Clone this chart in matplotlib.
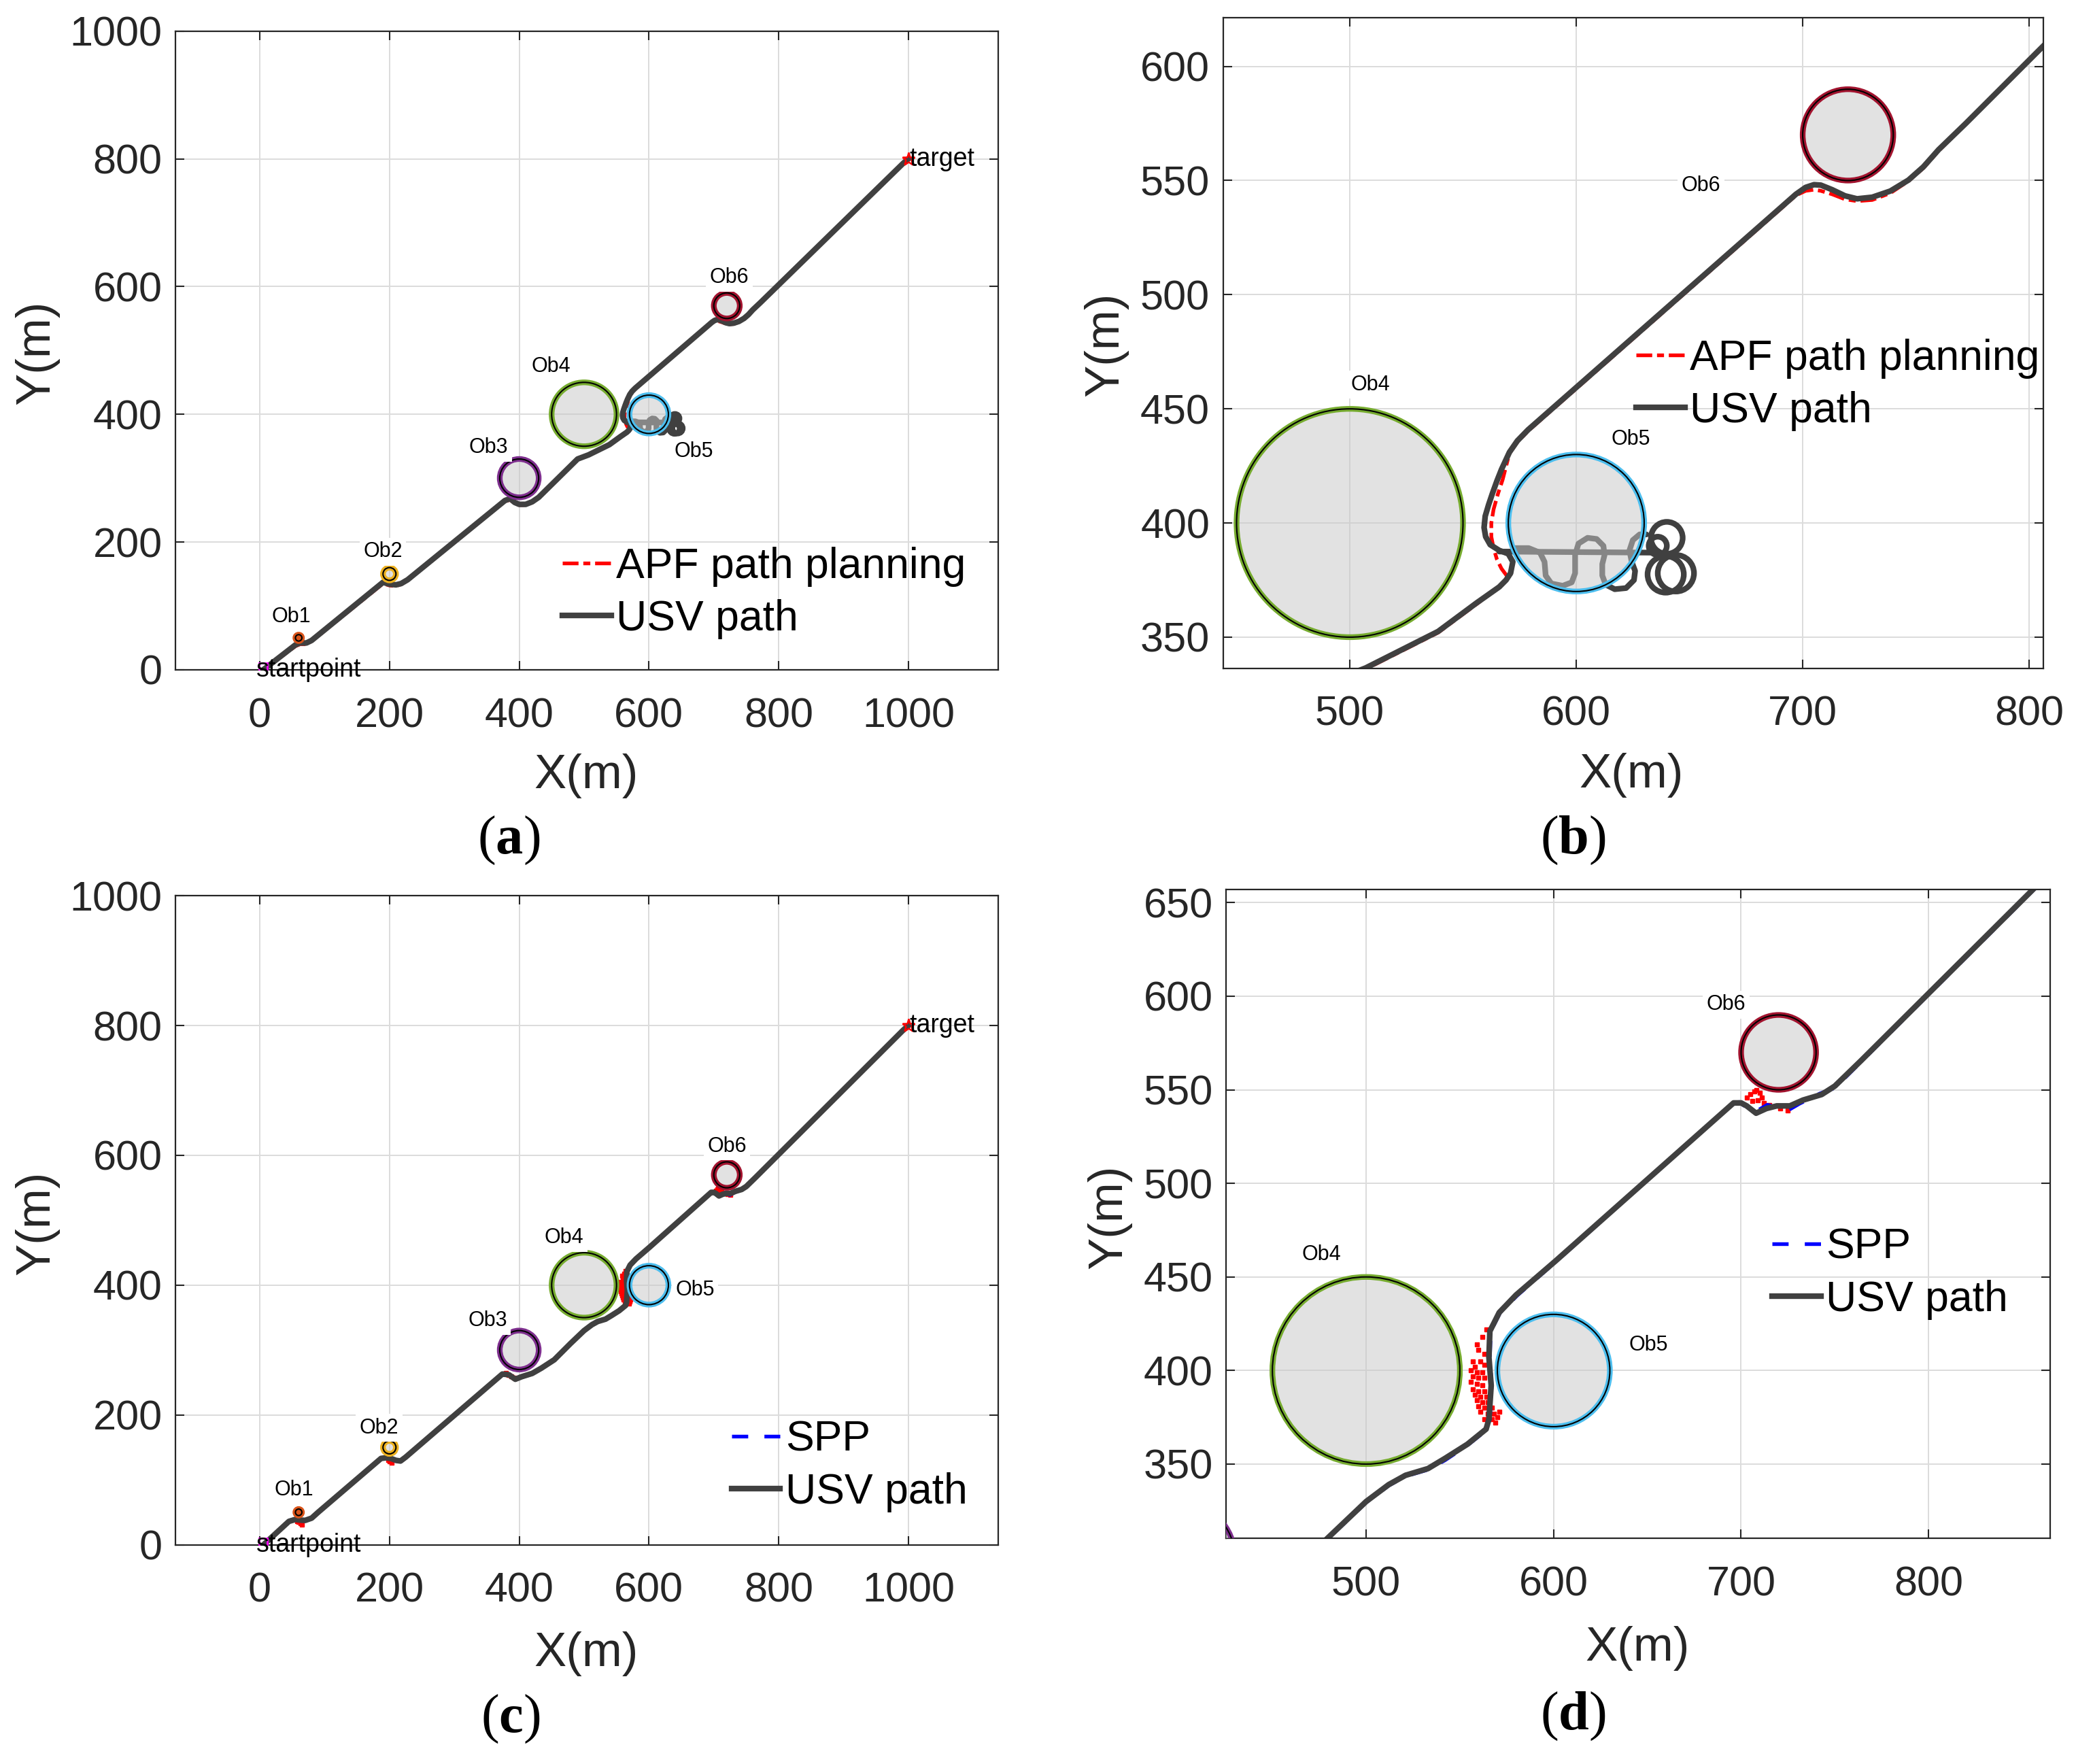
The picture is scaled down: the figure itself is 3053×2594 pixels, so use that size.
import matplotlib
matplotlib.use('Agg')
import matplotlib.pyplot as plt
from matplotlib.patches import Circle

plt.rcParams['font.family'] = ['Liberation Sans', 'DejaVu Sans']
plt.rcParams['mathtext.fontset'] = 'custom'
plt.rcParams['mathtext.bf'] = 'Liberation Serif:bold'
plt.rcParams['mathtext.rm'] = 'Liberation Serif'

# ---------------- data ----------------
obs_names = ['Ob1', 'Ob2', 'Ob3', 'Ob4', 'Ob5', 'Ob6']
obs_x = [60, 200, 400, 500, 600, 720]
obs_y = [50, 150, 300, 400, 400, 570]
obs_r = [5, 10, 30, 50, 30, 20]
obs_colors = ['#D95319', '#EDB120', '#7E2F8E', '#77AC30', '#4DBEEE', '#A2142F']

start_x, start_y = [5], [4]
target_x, target_y = [1000], [800]

# USV path / APF path for panels (a) and (b)
usv_ab_x = [8, 55, 62, 72, 80, 190, 200, 210, 218, 228, 378, 386, 393,
            400, 410, 420, 430, 445, 470, 490, 507, 519, 539, 556, 566, 569, 571, 572, 570, 566, 562,
            560, 559.3, 559.8, 561.3, 563, 565, 567, 570.5, 574, 578.7, 689, 697, 701.3, 705, 708,
            713, 718.7, 724, 730.7, 738.7, 746.7, 753.3, 760, 772, 992, 1000]
usv_ab_y = [2, 39, 42, 42, 46, 137, 134, 133, 135, 141, 265, 268, 262,
            259, 259, 263, 270, 285, 310, 330, 336.5, 342.5, 352.5, 365, 372, 375, 378, 383, 386.5, 388, 390.5,
            394, 398, 403, 408, 413, 418.5, 423.5, 431, 436, 440.8, 537, 544, 547, 548.2, 548,
            546, 543.3, 542, 542.7, 545.4, 550.2, 556, 563.5, 575, 793, 800]

apf_ab_x = [8, 55, 62, 72, 80, 190, 200, 210, 218, 228, 378, 386, 393,
            400, 410, 420, 430, 445, 470, 490, 507, 519, 539, 556, 566, 570, 567, 565, 563.5, 562.5,
            562.5, 563.5, 565.5, 567.5, 570.5, 574, 578.7, 689, 697, 701.3, 705, 708,
            713, 718.7, 724, 730.7, 738.7, 746.7, 753.3, 760, 772, 992, 1000]
apf_ab_y = [2, 37, 40, 40, 45, 135, 132, 131, 134, 140, 264, 266, 261,
            258, 258, 262, 270, 285, 310, 330, 336, 342, 352, 364.5, 372, 376, 380, 384, 389, 394,
            400, 406, 413, 419, 430.5, 435.5, 440.3, 536.5, 543.5, 545.5, 546, 545.5,
            544, 541.8, 541, 541.5, 544.5, 549.8, 555.5, 563, 575, 793, 800]

# trapped oscillation near Ob5 (panels a, b)
trap_x = [566, 637]
trap_y = [387.5, 387]
wiggle_x = [573, 579, 584, 586, 586.5, 589, 594, 598, 599.5, 599.5, 601, 605, 609, 612, 612.5, 611.5,
            611.5, 613, 617, 622, 625.5, 626, 624.5, 623.5, 625, 628, 631]
wiggle_y = [389, 389, 387, 383, 377, 373.5, 372.5, 374, 378, 386, 391, 393.5, 393, 390, 386, 382,
            377, 373, 371, 371.5, 375, 379, 383, 388, 392.5, 395, 395]
loop_x = [640, 639.5, 644, 636]
loop_y = [393.5, 377.5, 378, 390]
loop_r = [7, 8, 8, 4]

# USV path / SPP path for panels (c) and (d)
usv_cd_x = [8, 45, 55, 62, 70, 80, 90, 187, 195, 202, 210, 217, 225, 374, 384,
            394, 404, 420, 434, 454, 479, 500, 512, 521, 533, 542, 554, 564, 565.5, 566.7, 565.5, 566, 571,
            580, 601, 696, 700, 703, 708, 713.5, 719, 726, 733, 743, 750, 764, 992, 1000]
usv_cd_y = [2, 36, 39, 38, 37.5, 41, 50, 133, 134, 133, 130, 129, 135, 263, 262,
            255, 259, 264, 272, 285, 310, 330, 339, 344, 347.6, 353, 360.6, 368.7, 374, 392, 407, 421, 431,
            440.4, 458.5, 543, 543, 541.4, 537.5, 540, 541.4, 541.4, 544.5, 547.5, 552, 565.6, 793, 800]

spp_cd_x = [8, 45, 55, 62, 70, 80, 90, 187, 195, 202, 210, 217, 225, 374, 384,
            394, 404, 420, 434, 454, 479, 500, 512, 521, 533, 542, 554, 564, 566, 567, 566, 566.5, 571.5,
            580.5, 601, 695, 699, 703, 708, 714, 719, 725, 731, 742, 750, 764, 992, 1000]
spp_cd_y = [2, 37, 40, 37, 36.5, 40, 49.5, 134, 133, 131.5, 129, 128, 134, 262, 261,
            254, 258, 263.5, 271.5, 284.5, 309.5, 329.5, 338.5, 343.5, 347, 352, 360, 368, 374, 392, 407, 421, 431,
            440, 458, 542, 543.5, 540.5, 538.5, 542, 540.5, 539, 542.5, 548, 551, 565, 792.5, 800]

# scattered red APF points in panels (c) and (d)
red_x = [564, 562, 559, 560, 563, 561, 557, 558, 563, 556, 559, 562, 557, 560, 563, 556, 559, 562, 557, 560,
         563, 558, 561, 564, 559, 562, 565, 560, 563, 567, 561, 565, 568, 571, 570, 567, 563, 569,
         703, 705, 707, 708, 710, 711, 706, 709, 712, 715, 721, 725,
         380, 384, 388, 392, 198, 200, 203, 58, 60, 63, 65]
red_y = [422, 418, 414, 411, 409, 405, 405, 402, 403, 400, 399, 399, 397, 396, 396, 394, 393, 392, 390, 389,
         389, 387, 386, 386, 384, 383, 383, 381, 380, 380, 378, 377, 377, 378, 375, 374, 374, 372,
         546, 547.5, 549, 550, 548.5, 546, 544, 544.5, 543, 542, 540, 539,
         265, 262, 259, 257, 131, 128, 126, 36, 35, 33, 31]

# label positions per panel
lab_a = [(49, 83), (190, 185), (353, 348), (449, 475), (669, 342), (724, 614)]
lab_b = [None, None, None, (509, 460.5), (624, 436.6), (655, 547.7)]
lab_c = [(53, 84), (184, 180), (351, 345), (469, 473), (671, 392), (720, 614)]
lab_d = [None, None, None, (476, 461.8), (650.7, 413.7), (692, 595.6)]

# ---------------- style ----------------
GRAY = '#404040'
TXT = '#262626'
FIG_W, FIG_H = 3053, 2594
PATH_LW = 6.0

fig = plt.figure(figsize=(FIG_W / 100, FIG_H / 100), dpi=100)


def setup(ax, xlim, ylim, xt, yt):
    ax.set_xlim(*xlim)
    ax.set_ylim(*ylim)
    ax.set_xticks(xt)
    ax.set_yticks(yt)
    ax.set_axisbelow(True)
    ax.grid(True, color='#DCDCDC', lw=1.4)
    ax.tick_params(direction='in', top=True, right=True, length=9.5, width=1.5,
                   labelsize=44, colors=TXT, pad=29)
    ax.tick_params(axis='y', pad=14)
    for s in ax.spines.values():
        s.set_color(TXT)
        s.set_linewidth(1.6)


def draw_obstacles(ax, labels):
    for i in range(len(obs_x)):
        ax.add_patch(Circle((obs_x[i], obs_y[i]), obs_r[i], facecolor='#C8C8C8',
                            edgecolor='none', alpha=0.52, zorder=3))
        ax.add_patch(Circle((obs_x[i], obs_y[i]), obs_r[i], fill=False,
                            edgecolor=obs_colors[i], lw=6.0, zorder=4))
        ax.add_patch(Circle((obs_x[i], obs_y[i]), obs_r[i], fill=False,
                            edgecolor='black', lw=1.5, zorder=5))
        if labels[i] is not None:
            ax.text(labels[i][0], labels[i][1], obs_names[i], fontsize=22, color='black',
                    ha='center', va='center', zorder=6, clip_on=True,
                    bbox=dict(facecolor='white', edgecolor='none', pad=4))


def start_target(ax):
    ax.plot(start_x, start_y, marker='s', ms=9, mfc='none', mec='magenta', mew=2, ls='none', zorder=7)
    ax.plot(target_x, target_y, marker='*', ms=14, mfc='none', mec='red', mew=1.8, ls='none', zorder=7)
    ax.text(start_x[0] - 10, 0, 'startpoint', fontsize=27, ha='left', va='center', zorder=8)
    ax.text(target_x[0] + 2, target_y[0], 'target', fontsize=27, ha='left', va='center', zorder=8)


APF_LS = (0, (4.3, 1.3, 1.9, 1.3))
SPP_LS = (0, (4.4, 4.4))


def add_legend(ax, handles, anchor):
    ax.legend(handles=handles, loc='center left', bbox_to_anchor=anchor,
              bbox_transform=fig.transFigure, frameon=False, fontsize=45,
              handlelength=1.15, handletextpad=0.12, borderpad=0, borderaxespad=0,
              labelspacing=0.29)


def panel_ab(rect, xlim, ylim, xt, yt, labels, leg_anchor, with_st):
    ax = fig.add_axes(rect)
    setup(ax, xlim, ylim, xt, yt)
    l1, = ax.plot(apf_ab_x, apf_ab_y, color='red', lw=3.9, ls=APF_LS, zorder=2,
                  label='APF path planning')
    l2, = ax.plot(usv_ab_x, usv_ab_y, color=GRAY, lw=PATH_LW, zorder=2.2, label='USV path',
                  solid_joinstyle='round')
    ax.plot(trap_x, trap_y, color=GRAY, lw=PATH_LW, zorder=2.2, solid_capstyle='round')
    ax.plot(wiggle_x, wiggle_y, color=GRAY, lw=PATH_LW, zorder=2.2, solid_joinstyle='round',
            solid_capstyle='round')
    for i in range(len(loop_x)):
        ax.add_patch(Circle((loop_x[i], loop_y[i]), loop_r[i], fill=False,
                            edgecolor=GRAY, lw=PATH_LW, zorder=2.3))
    draw_obstacles(ax, labels)
    if with_st:
        start_target(ax)
    add_legend(ax, [l1, l2], leg_anchor)
    return ax


def panel_cd(rect, xlim, ylim, xt, yt, labels, leg_anchor, with_st):
    ax = fig.add_axes(rect)
    setup(ax, xlim, ylim, xt, yt)
    ax.plot(red_x, red_y, ls='none', marker='s', ms=4.5, mfc='red', mec='red', zorder=1.9)
    l1, = ax.plot(spp_cd_x, spp_cd_y, color='blue', lw=3.9, ls=SPP_LS, zorder=2,
                  label='SPP')
    l2, = ax.plot(usv_cd_x, usv_cd_y, color=GRAY, lw=PATH_LW, zorder=2.2, label='USV path',
                  solid_joinstyle='round')
    draw_obstacles(ax, labels)
    if with_st:
        start_target(ax)
    add_legend(ax, [l1, l2], leg_anchor)
    return ax


big_ticks = [0, 200, 400, 600, 800, 1000]
panel_ab([0.0845, 0.6203, 0.3962, 0.3621], (-130, 1138), (0, 1000), big_ticks, big_ticks,
         lab_a, (0.2709, 0.6638), True)
panel_ab([0.5891, 0.6212, 0.3952, 0.3686], (444, 806.3), (336.4, 621.2),
         [500, 600, 700, 800], [350, 400, 450, 500, 550, 600], lab_b, (0.7880, 0.7818), False)
panel_cd([0.0845, 0.1243, 0.3962, 0.3679], (-130, 1138), (0, 1000), big_ticks, big_ticks,
         lab_c, (0.3523, 0.1690), True)
panel_cd([0.5906, 0.1278, 0.3969, 0.3678], (425.3, 864.8), (310.2, 656.9),
         [500, 600, 700, 800], [350, 400, 450, 500, 550, 600, 650], lab_d, (0.8536, 0.2781), False)

# axis labels
for (x, y) in [(0.2825, 0.5603), (0.7857, 0.5604), (0.2825, 0.0623), (0.7889, 0.0656)]:
    fig.text(x, y, 'X(m)', fontsize=51, color=TXT, ha='center', va='center')
for (x, y) in [(0.0179, 0.800), (0.5327, 0.8048), (0.0179, 0.3067), (0.5342, 0.3101)]:
    fig.text(x, y, 'Y(m)', fontsize=51, color=TXT, ha='center', va='center', rotation=90)

# captions
for (x, y, c) in [(0.2452, 0.5236, 'a'), (0.7577, 0.5236, 'b'), (0.2459, 0.0255, 'c'), (0.7577, 0.0270, 'd')]:
    fig.text(x, y, '($\\mathbf{' + c + '}$)', fontsize=58, color='black', ha='center', va='center',
             family='Liberation Serif')

fig.savefig('out.png', dpi=100)
